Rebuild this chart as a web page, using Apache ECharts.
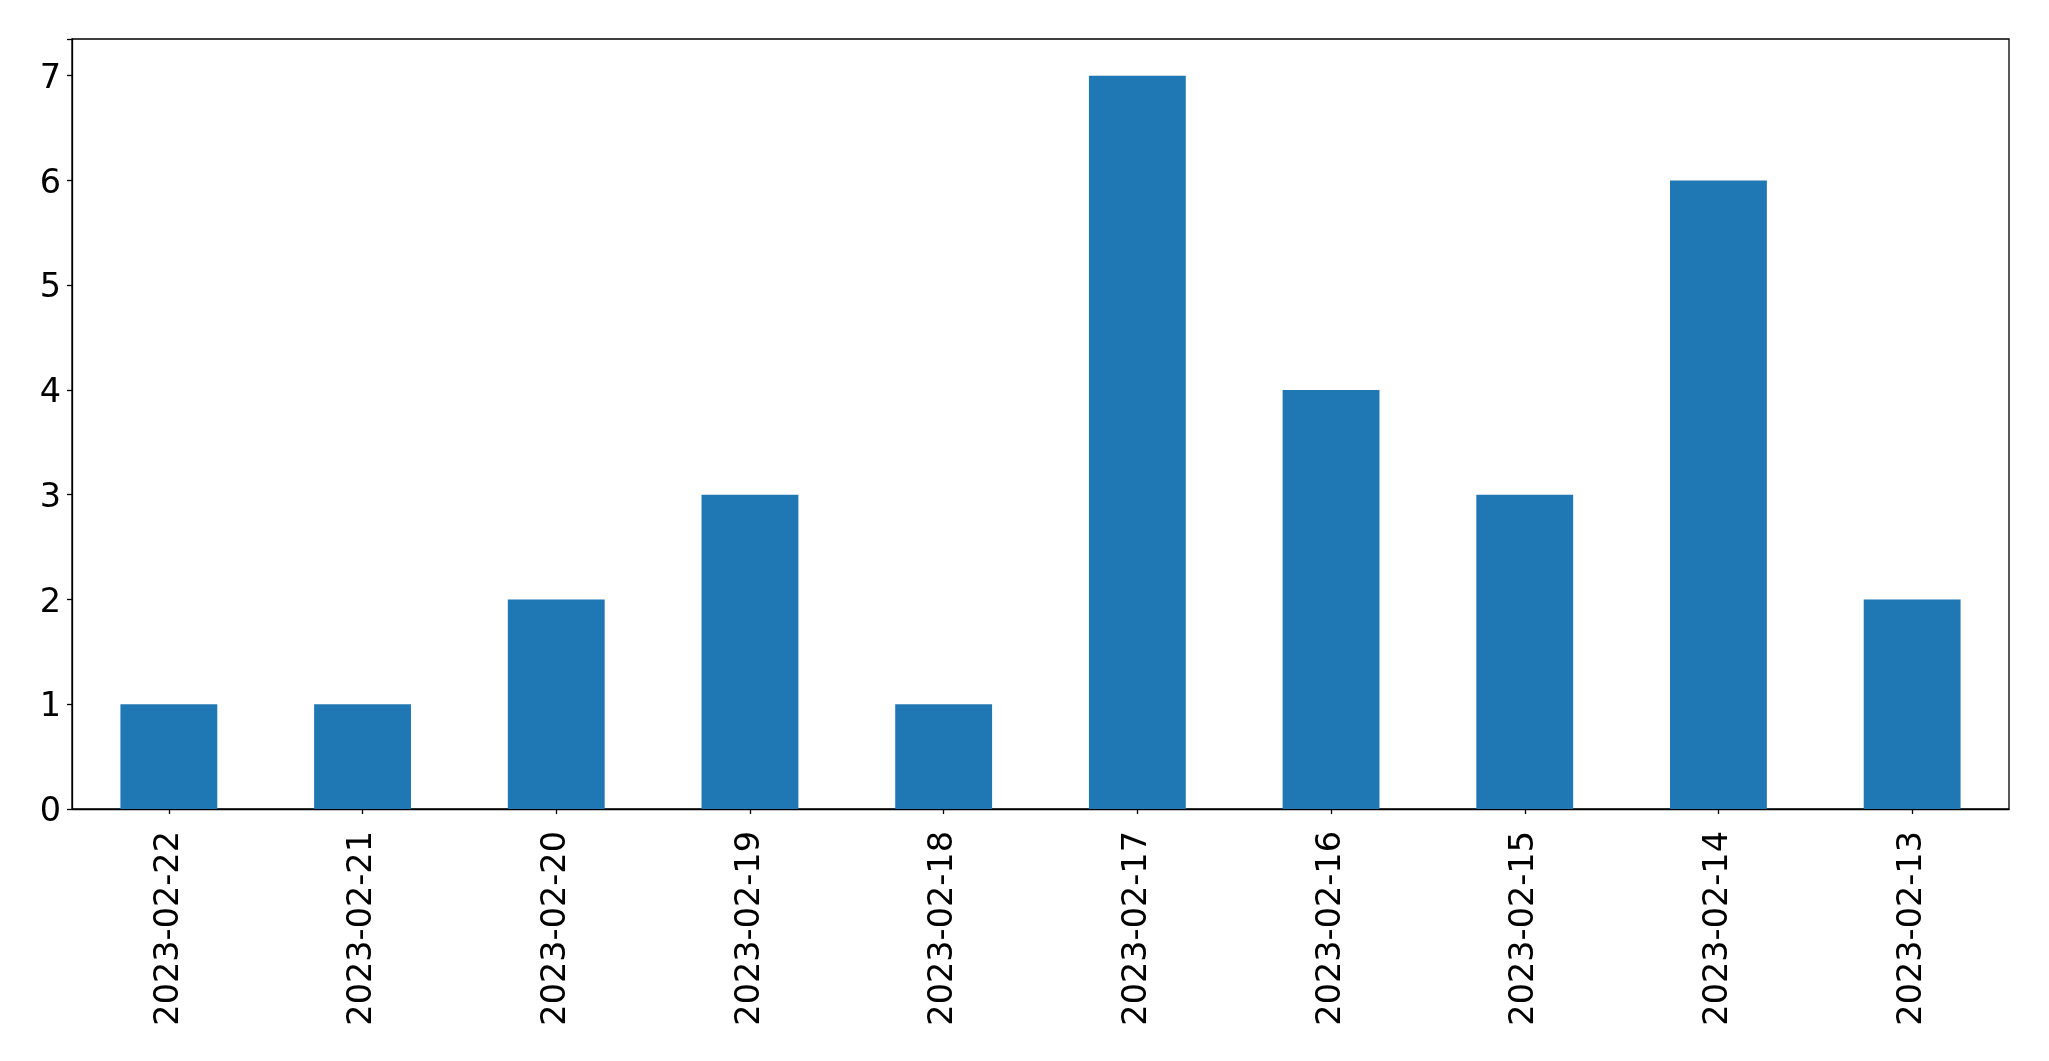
<!DOCTYPE html>
<html>
<head>
<meta charset="utf-8">
<script src="https://cdn.jsdelivr.net/npm/echarts@6/dist/echarts.min.js"></script>
<style>
html,body{margin:0;padding:0;background:#fff;}
#chart{width:2049px;height:1061px;}
</style>
</head>
<body>
<div id="chart"></div>
<script>
const categories = ['2023-02-22','2023-02-21','2023-02-20','2023-02-19','2023-02-18','2023-02-17','2023-02-16','2023-02-15','2023-02-14','2023-02-13'];
const values = [1, 1, 2, 3, 1, 7, 4, 3, 6, 2];
const yTicks = [0, 1, 2, 3, 4, 5, 6, 7];

const chart = echarts.init(document.getElementById('chart'), null, {renderer: 'canvas'});
const font = 'DejaVu Sans';
chart.setOption({
  animation: false,
  backgroundColor: '#ffffff',
  grid: {left: 72, right: 40, top: 39, bottom: 252, show: true, borderColor: '#000', borderWidth: 1.3, backgroundColor: 'transparent'},
  xAxis: {
    type: 'category',
    data: categories,
    boundaryGap: true,
    axisLine: {show: true, lineStyle: {color: '#000', width: 1.3}},
    axisTick: {show: true, alignWithLabel: true, length: 5, lineStyle: {color: '#000', width: 1.3}},
    axisLabel: {rotate: 90, fontSize: 33.5, fontFamily: font, color: '#000', margin: 22, interval: 0},
    splitLine: {show: false}
  },
  yAxis: {
    type: 'value',
    min: 0,
    max: 7.35,
    interval: 1,
    axisLine: {show: true, lineStyle: {color: '#000', width: 1.3}},
    axisTick: {show: true, length: 5, lineStyle: {color: '#000', width: 1.3}},
    axisLabel: {fontSize: 33.5, fontFamily: font, color: '#000', margin: 11,
      formatter: function(v){ return yTicks.indexOf(v) >= 0 ? '{t|' + v + '}' : ''; },
      rich: {t: {fontSize: 33.5, fontFamily: font, color: '#000', padding: [7, 0, 0, 0]}}},
    splitLine: {show: false}
  },
  series: [{
    type: 'bar',
    data: values,
    barWidth: '50%',
    itemStyle: {color: '#1f77b4'}
  }]
});
</script>
</body>
</html>
